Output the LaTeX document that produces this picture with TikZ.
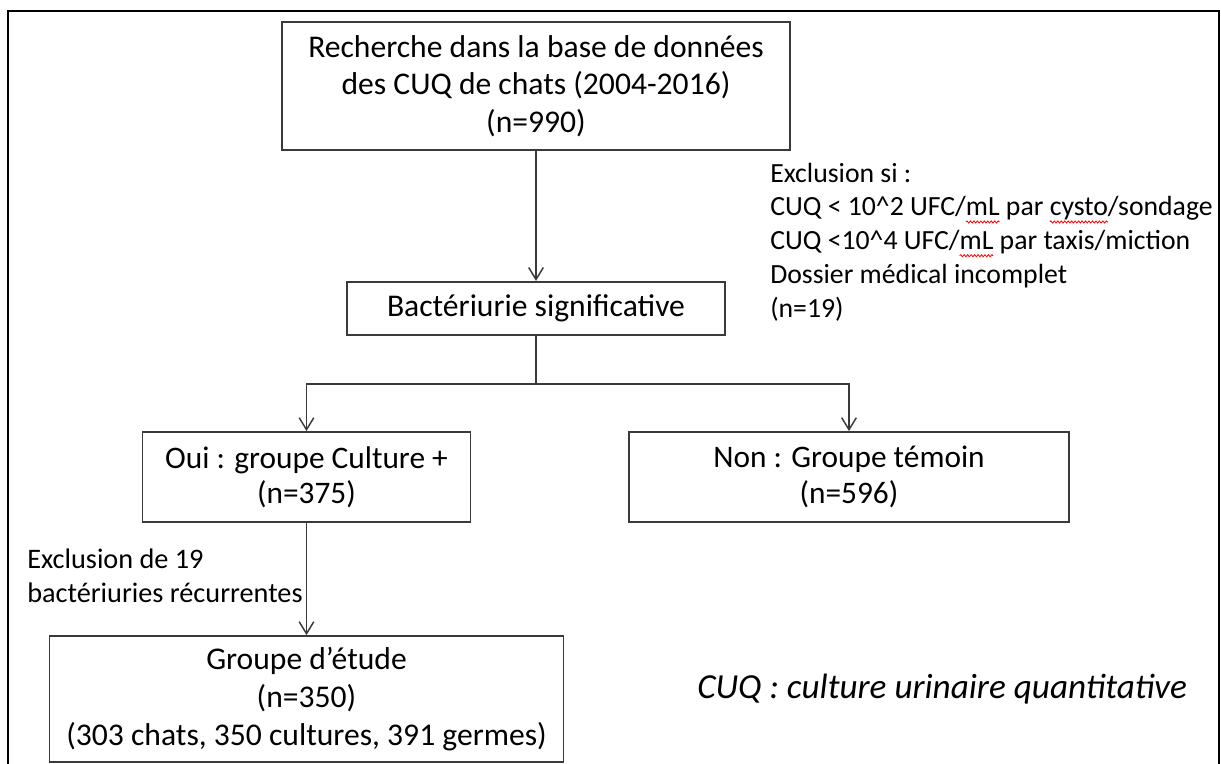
\documentclass[tikz,border=0pt]{standalone}
\usepackage{fontspec}
\setmainfont{Carlito}
\usetikzlibrary{arrows.meta,decorations.pathmorphing}
\newsavebox\rwbox
\newlength\rwlen
\newcommand\rw[1]{\sbox\rwbox{#1}\setlength\rwlen{\wd\rwbox}%
  \makebox[0pt][l]{\tikz[x=1pt,y=1pt,baseline=0pt]{\useasboundingbox (0pt,0pt);
    \draw[red,line width=0.6pt,decorate,decoration={snake,amplitude=0.8pt,segment length=2.6pt}] (0pt,-4.5pt) -- (\rwlen,-4.5pt);}}%
  \usebox\rwbox}
\definecolor{boxline}{HTML}{3A3A3A}
\tikzset{
  px/.style={x=0.75pt,y=-0.75pt},
  boxnode/.style={draw=boxline,line width=1.4pt,rectangle,inner sep=0pt,align=center,
    font=\fontsize{23.7pt}{28.3pt}\selectfont},
  conn/.style={draw=boxline,line width=1.1pt},
  arr/.style={conn,-{Straight Barb[length=9pt,width=11pt,line width=1.1pt]}},
  note/.style={inner sep=0pt,anchor=west,align=left},
}
\begin{document}
\begin{tikzpicture}[px]
\useasboundingbox (0,0) rectangle (1221,764);
\draw[line width=2.2pt,black] (8,780) -- (8,11) -- (1219,11) -- (1219,780);

\node[boxnode,minimum width=381pt,minimum height=96pt] (top) at (536,86)
  {Recherche dans la base de données\\des CUQ de chats (2004-2016)\\(n=990)};
\node[boxnode,minimum width=283.5pt,minimum height=40pt] (bact) at (536,308.5)
  {Bactériurie significative};
\node[boxnode,minimum width=246pt,minimum height=67.5pt,font=\fontsize{23.5pt}{26.5pt}\selectfont] (oui) at (306.5,477)
  {Oui : groupe Culture +\\(n=375)};
\node[boxnode,minimum width=330pt,minimum height=67.5pt,font=\fontsize{23.5pt}{26.5pt}\selectfont] (non) at (849,477)
  {Non : Groupe témoin\\(n=596)};
\node[boxnode,minimum width=385.5pt,minimum height=94.5pt] (etude) at (306.5,699)
  {Groupe d’étude\\(n=350)\\(303 chats, 350 cultures, 391 germes)};

\coordinate (split) at (536,384);
\draw[arr] (top.south) -- (bact.north);
\draw[conn] (bact.south) -- (split);
\draw[arr] (split) -| (oui.north);
\draw[arr] (split) -| (non.north);
\draw[arr] (oui.south) -- (etude.north);

\node[note,font=\fontsize{20.8pt}{25.3pt}\selectfont] (excl) at (770,242)
  {Exclusion si :\\CUQ < 10\textasciicircum 2 UFC/\rw{mL} par \rw{cysto}/sondage\\CUQ <10\textasciicircum 4 UFC/\rw{mL} par taxis/miction\\Dossier médical incomplet\\(n=19)};
\node[note,font=\fontsize{21.2pt}{25.5pt}\selectfont] (rec) at (27,576)
  {Exclusion de 19\\bactériuries récurrentes};
\node[note,font=\fontsize{26.4pt}{31pt}\itshape] (legend) at (697,689)
  {CUQ : culture urinaire quantitative};
\end{tikzpicture}
\end{document}
